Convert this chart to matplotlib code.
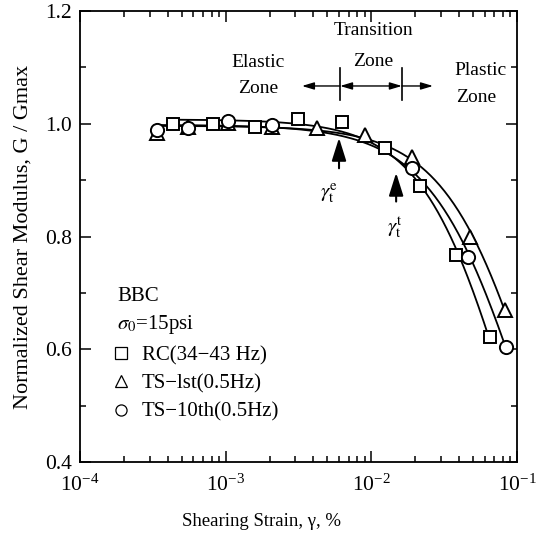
import numpy as np
import matplotlib
matplotlib.use("Agg")
import matplotlib.pyplot as plt
from matplotlib.lines import Line2D
from matplotlib.ticker import LogLocator, LogFormatterMathtext, MultipleLocator, NullFormatter

plt.rcParams['font.family'] = ['Liberation Serif', 'DejaVu Serif']
plt.rcParams['mathtext.fontset'] = 'stix'

# ---- data ----
rc_strain = [4.35e-4, 8.2e-4, 1.59e-3, 3.14e-3, 6.29e-3, 1.24e-2, 2.16e-2, 3.81e-2, 6.53e-2]
rc_g = [1.000, 1.000, 0.995, 1.008, 1.003, 0.957, 0.890, 0.767, 0.622]

ts1_strain = [3.38e-4, 5.51e-4, 1.04e-3, 2.08e-3, 4.24e-3, 9.05e-3, 1.90e-2, 4.76e-2, 8.28e-2]
ts1_g = [0.984, 0.994, 1.001, 0.994, 0.992, 0.980, 0.941, 0.799, 0.670]

ts10_strain = [3.38e-4, 5.51e-4, 1.04e-3, 2.08e-3, 1.90e-2, 4.61e-2, 8.40e-2]
ts10_g = [0.989, 0.992, 1.005, 0.998, 0.922, 0.764, 0.604]

labels = ["RC(34\u221243 Hz)", "TS\u2212lst(0.5Hz)", "TS\u221210th(0.5Hz)"]
markers = ["s", "^", "o"]


def hyper_fit(x, g):
    x = np.asarray(x); g = np.asarray(g)
    best = None
    for lr in np.linspace(-2.5, 0.0, 251):
        for a in np.linspace(0.8, 2.6, 91):
            f = 1.0 / (1.0 + (x / 10 ** lr) ** a)
            k = (f @ g) / (f @ f)
            err = ((k * f - g) ** 2).sum()
            if best is None or err < best[0]:
                best = (err, k, 10 ** lr, a)
    return best[1:]


fig = plt.figure(figsize=(5.5, 5.42), dpi=100)
ax = fig.add_axes([80 / 550, 1 - 462 / 542, 437 / 550, 451 / 542])

series = [(rc_strain, rc_g), (ts1_strain, ts1_g), (ts10_strain, ts10_g)]
msizes = {"s": 9, "^": 10.5, "o": 9.5}
for (xs, gs), m in zip(series, markers):
    k, gr, a = hyper_fit(xs, gs)
    xx = np.logspace(np.log10(min(xs)), np.log10(max(xs)), 300)
    ax.plot(xx, k / (1 + (xx / gr) ** a), color='black', lw=1.3, zorder=2)
for (xs, gs), m in zip(series, markers):
    ax.plot(xs, gs, linestyle='none', marker=m, ms=msizes[m],
            mfc='white', mec='black', mew=1.4, zorder=3)

ax.set_xscale('log')
ax.set_xlim(1e-4, 1e-1)
ax.set_ylim(0.4, 1.2)
ax.yaxis.set_major_locator(MultipleLocator(0.2))
ax.yaxis.set_minor_locator(MultipleLocator(0.1))
ax.yaxis.set_major_formatter(plt.FuncFormatter(lambda v, p: f"{v:.1f}"))
ax.xaxis.set_major_locator(LogLocator(base=10, numticks=10))
ax.xaxis.set_minor_locator(LogLocator(base=10, subs=np.arange(2, 10), numticks=10))
ax.xaxis.set_major_formatter(LogFormatterMathtext())
ax.xaxis.set_minor_formatter(NullFormatter())
ax.tick_params(which='both', direction='in', top=True, right=True, width=1.1)
ax.tick_params(which='major', length=8, labelsize=15.5)
ax.tick_params(which='minor', length=4.5)
ax.tick_params(axis='x', which='major', pad=9)
ax.tick_params(axis='y', which='major', pad=6)
for s in ax.spines.values():
    s.set_linewidth(1.3)

ax.set_ylabel("Normalized Shear Modulus, G / Gmax", fontsize=16, labelpad=9)
fig.text(262 / 550, 1 - 522 / 542, "Shearing Strain, \u03b3, %", fontsize=13.5,
         ha='center', va='center')

# zone annotations
tkw = dict(fontsize=14, ha='center', va='center')
ax.text(1.67e-3, 1.108, "Elastic", **tkw)
ax.text(1.67e-3, 1.063, "Zone", **tkw)
ax.text(1.03e-2, 1.166, "Transition", **tkw)
ax.text(1.03e-2, 1.110, "Zone", **tkw)
ax.text(5.6e-2, 1.095, "Plastic", **tkw)
ax.text(5.2e-2, 1.047, "Zone", **tkw)
yrow = 1.067
ap = dict(arrowstyle='-|>,head_length=0.6,head_width=0.18', color='black', lw=1.0,
          shrinkA=0, shrinkB=0, mutation_scale=12)
ax.annotate("", xy=(3.34e-3, yrow), xytext=(6.1e-3, yrow), arrowprops=ap)
ax.annotate("", xy=(1.62e-2, yrow), xytext=(6.1e-3, yrow),
            arrowprops=dict(ap, arrowstyle='<|-|>,head_length=0.6,head_width=0.18'))
ax.annotate("", xy=(2.65e-2, yrow), xytext=(1.62e-2, yrow), arrowprops=ap)
for xb in (6.1e-3, 1.62e-2):
    ax.plot([xb, xb], [1.042, 1.099], color='black', lw=1.2)

# threshold arrows
tap = dict(arrowstyle='-|>,head_length=0.7,head_width=0.22', color='black', lw=1.5,
           shrinkA=0, shrinkB=0, mutation_scale=20)
ax.annotate("", xy=(6.0e-3, 0.975), xytext=(6.0e-3, 0.921), arrowprops=tap)
ax.annotate("", xy=(1.48e-2, 0.913), xytext=(1.48e-2, 0.862), arrowprops=tap)
ax.text(5.1e-3, 0.877, r"$\gamma_{\rm t}^{\rm e}$", fontsize=15, ha='center', va='center')
ax.text(1.46e-2, 0.817, r"$\gamma_{\rm t}^{\rm t}$", fontsize=15, ha='center', va='center')

# legend block
ax.text(0.085, 0.366, "BBC", transform=ax.transAxes, fontsize=15, va='center', ha='left')
ax.text(0.085, 0.304, r"$\sigma_0$=15psi", transform=ax.transAxes, fontsize=15,
        va='center', ha='left')
handles = [Line2D([], [], linestyle='none', marker=m, ms=8, mfc='white', mec='black', mew=0.9)
           for m in markers]
ax.legend(handles, labels, loc='upper left', bbox_to_anchor=(0.075, 0.258), frameon=False,
          fontsize=15, handlelength=0.8, handletextpad=0.6, labelspacing=0.42,
          borderaxespad=0, borderpad=0)

fig.savefig("out.png", dpi=100)
